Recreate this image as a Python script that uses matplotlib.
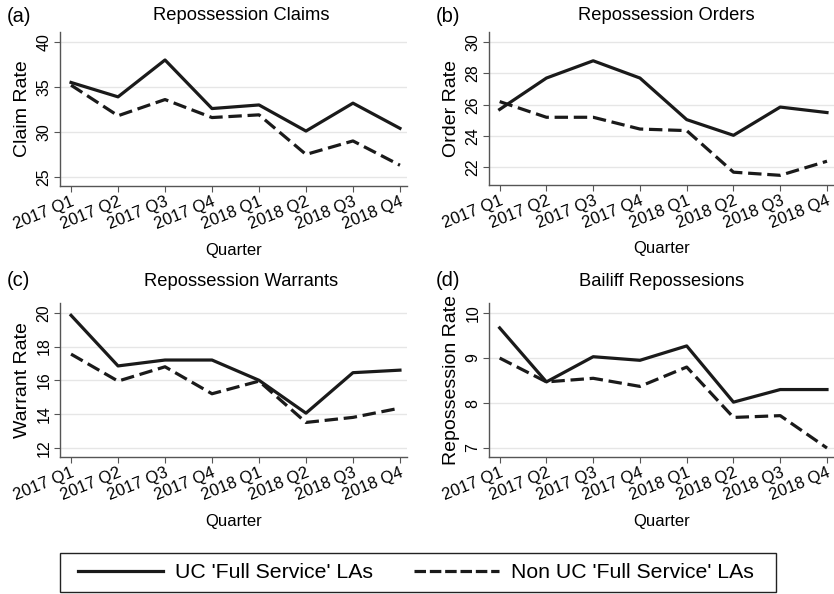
import matplotlib
matplotlib.use("Agg")
import matplotlib.pyplot as plt
from matplotlib.lines import Line2D
from matplotlib.patches import Rectangle

plt.rcParams['font.family'] = ['Liberation Sans', 'DejaVu Sans']

quarters = ["2017 Q1", "2017 Q2", "2017 Q3", "2017 Q4",
            "2018 Q1", "2018 Q2", "2018 Q3", "2018 Q4"]

# UC full service vs non-UC full service
claims_uc = [35.5, 33.9, 38.0, 32.6, 33.0, 30.1, 33.2, 30.4]
claims_non = [35.2, 31.8, 33.6, 31.6, 31.9, 27.5, 29.0, 26.3]

orders_uc = [25.7, 27.7, 28.8, 27.7, 25.05, 24.05, 25.85, 25.5]
orders_non = [26.2, 25.2, 25.2, 24.45, 24.35, 21.7, 21.5, 22.4]

warrants_uc = [19.85, 16.85, 17.2, 17.2, 16.0, 14.05, 16.45, 16.6]
warrants_non = [17.55, 15.95, 16.8, 15.2, 15.95, 13.5, 13.8, 14.35]

bailiff_uc = [9.67, 8.47, 9.03, 8.95, 9.27, 8.02, 8.3, 8.3]
bailiff_non = [9.0, 8.47, 8.55, 8.37, 8.8, 7.68, 7.72, 7.0]

W, H = 834, 594

# label, title, ylabel, series, yticks, ylim, axes rect, title centre x, header y (px)
panels = [
    ("(a)", "Repossession Claims", "Claim Rate", claims_uc, claims_non,
     [25, 30, 35, 40], (24.0, 41.1), [0.072, 0.687, 0.416, 0.259], 241, 16),
    ("(b)", "Repossession Orders", "Order Rate", orders_uc, orders_non,
     [22, 24, 26, 28, 30], (20.9, 30.63), [0.586, 0.689, 0.414, 0.257], 666, 16),
    ("(c)", "Repossession Warrants", "Warrant Rate", warrants_uc, warrants_non,
     [12, 14, 16, 18, 20], (11.45, 20.57), [0.072, 0.2306, 0.416, 0.259], 241, 281),
    ("(d)", "Bailiff Repossesions", "Repossession Rate", bailiff_uc, bailiff_non,
     [7, 8, 9, 10], (6.8, 10.22), [0.586, 0.2306, 0.414, 0.259], 662, 281),
]

fig = plt.figure(figsize=(W / 100, H / 100), dpi=100)
x = list(range(len(quarters)))

for lab, title, ylab, uc, non, yticks, ylim, rect, tx, ty in panels:
    ax = fig.add_axes(rect)
    ax.plot(x, uc, color="#1a1a1a", lw=2.3)
    ax.plot(x, non, color="#1a1a1a", lw=2.3, dashes=(4.2, 1.8))
    ax.set_xlim(-0.234, 7.15)
    ax.set_ylim(*ylim)
    ax.set_yticks(yticks)
    ax.set_yticklabels([str(t) for t in yticks], rotation=90, va="center", fontsize=11.5)
    ax.set_xticks(x)
    ax.set_xticklabels(quarters, rotation=22, ha="right", rotation_mode="anchor", fontsize=12)
    ax.grid(axis="y", color="#e6e6e6", lw=1)
    ax.set_axisbelow(True)
    for s in ["top", "right"]:
        ax.spines[s].set_visible(False)
    for s in ["left", "bottom"]:
        ax.spines[s].set_color("#555555")
        ax.spines[s].set_linewidth(1)
    ax.tick_params(color="#555555", length=4, pad=2)
    ax.set_ylabel(ylab, fontsize=14, labelpad=4)
    ax.set_xlabel("Quarter", fontsize=12, va="top")
    ax.xaxis.set_label_coords(0.5, -0.37)
    fig.text(tx / W, 1 - ty / H, title, fontsize=13.2, ha="center", va="center")
    x0 = rect[0] * W - 53
    fig.text(x0 / W, 1 - ty / H, lab, fontsize=14.5, ha="left", va="center")

# legend box drawn separately so the padding matches the original
fig.patches.append(Rectangle((60 / W, 1 - 592 / H), (776 - 60) / W, 39 / H,
                             transform=fig.transFigure, fill=False,
                             edgecolor="#222222", lw=1))

handles = [Line2D([], [], color="#1a1a1a", lw=2.3),
           Line2D([], [], color="#1a1a1a", lw=2.3, dashes=(3.6, 1.2))]
leg = fig.legend(handles, ["UC 'Full Service' LAs", "Non UC 'Full Service' LAs"],
                 loc="center left", bbox_to_anchor=(78 / W, 1 - 572.5 / H), ncol=2,
                 fontsize=15.3, handlelength=4.0, columnspacing=1.93,
                 frameon=False, borderpad=0, handletextpad=0.56, borderaxespad=0)

fig.savefig("out.png", dpi=100)
